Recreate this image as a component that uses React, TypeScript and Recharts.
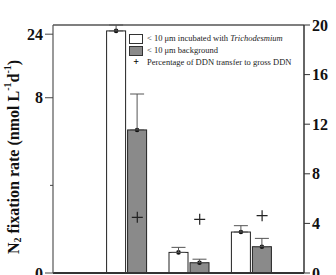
import {
  ComposedChart,
  Bar,
  ErrorBar,
  Scatter,
  XAxis,
  YAxis,
  Legend,
  ReferenceLine,
} from 'recharts'

// values
const sites = ['Group 1', 'Group 2', 'Group 3']
const incubated = [24.5, 0.94, 1.87]
const incubatedErr = [0.9, 0.23, 0.29]
const background = [6.53, 0.47, 1.2]
const backgroundErr = [1.64, 0.16, 0.38]
const transferPct = [4.49, 4.33, 4.62]

const leftTicks = [0, 4, 8, 24]
const rightTicks = [0, 4, 8, 12, 16, 20]

// broken left axis: 0-8 linear, then jumps to 24
const LOWER_MAX = 8
const UPPER_MIN = 24
const UPPER_AT = 10.9
const UPPER_SCALE = 0.3
const BREAK_AT = 10.3
const LEFT_MAX = 11.32

const toAxis = (v: number) =>
  v <= LOWER_MAX ? v : UPPER_AT + (v - UPPER_MIN) * UPPER_SCALE
// error length in axis units, using the scale of the segment the bar ends in
const errToAxis = (v: number, e: number) =>
  e * (v <= LOWER_MAX ? 1 : UPPER_SCALE)

const BAR_SIZE = 19
const BAR_GAP = 2
const FONT = '"Liberation Serif", "Times New Roman", serif'

const data = sites.map((name, i) => ({
  name,
  incubated: toAxis(incubated[i]),
  incubatedErr: [0, errToAxis(incubated[i], incubatedErr[i])],
  background: toAxis(background[i]),
  backgroundErr: [0, errToAxis(background[i], backgroundErr[i])],
  pct: transferPct[i],
}))

const BarWithDot = (props: any) => {
  const { x, y, width, height, fill } = props
  return (
    <g>
      <rect x={x} y={y} width={width} height={height} fill={fill} stroke="#222" strokeWidth={1} />
      <circle cx={x + width / 2} cy={y} r={2.3} fill="#111" />
    </g>
  )
}

const PlusMark = (props: any) => {
  const { cx, cy } = props
  const x = cx + (BAR_SIZE + BAR_GAP) / 2
  const a = 5.5
  return (
    <path
      d={`M${x - a},${cy}H${x + a}M${x},${cy - a}V${cy + a}`}
      stroke="#222"
      strokeWidth={1.2}
      fill="none"
    />
  )
}

const LeftTick = (props: any) => {
  const { x, y, payload } = props
  const v = payload.value
  if (v === BREAK_AT) {
    return (
      <g stroke="#444" strokeWidth={1}>
        <line x1={x - 5} y1={y + 1} x2={x + 2} y2={y - 3} />
        <line x1={x - 5} y1={y + 4} x2={x + 2} y2={y} />
      </g>
    )
  }
  if (v === 4) {
    return <line x1={x - 3} y1={y} x2={x} y2={y} stroke="#444" />
  }
  const label = v === UPPER_AT ? String(UPPER_MIN) : String(v)
  return (
    <g>
      <line x1={x - 8} y1={y} x2={x} y2={y} stroke="#444" />
      <text
        x={x - 10}
        y={y}
        dy="0.35em"
        textAnchor="end"
        fontFamily={FONT}
        fontWeight="bold"
        fontSize={16}
        fill="#111"
      >
        {label}
      </text>
    </g>
  )
}

const YLabel = () => (
  <text
    x={13}
    y={157}
    transform="rotate(-90 13 157)"
    textAnchor="middle"
    dominantBaseline="central"
    fontFamily={FONT}
    fontWeight="bold"
    fontSize={16}
    fill="#111"
  >
    N
    <tspan fontSize={10} dy={4}>2</tspan>
    <tspan dy={-4}> fixation rate (nmol L</tspan>
    <tspan fontSize={10} dy={-6}>-1</tspan>
    <tspan dy={6}>d</tspan>
    <tspan fontSize={10} dy={-6}>-1</tspan>
    <tspan dy={6}>)</tspan>
  </text>
)

const LegendBox = ({ fill }: { fill: string }) => (
  <span
    style={{
      display: 'inline-block',
      width: 12,
      height: 8,
      background: fill,
      border: '1px solid #333',
      marginRight: 4,
      verticalAlign: 'middle',
    }}
  />
)

const rowStyle = { color: '#222', whiteSpace: 'nowrap' as const, height: 12 }

const CustomLegend = () => (
  <div style={{ fontFamily: FONT, fontSize: 8.5, color: '#222', lineHeight: '12px' }}>
    <div style={rowStyle}>
      <LegendBox fill="#fff" />
      &lt; 10 μm incubated with <i>Trichodesmium</i>
    </div>
    <div style={rowStyle}>
      <LegendBox fill="#8a8a8a" />
      &lt; 10 μm background
    </div>
    <div style={rowStyle}>
      <span style={{ display: 'inline-block', width: 14, textAlign: 'center', marginRight: 4, fontWeight: 'bold', fontSize: 10, color: '#000' }}>+</span>
      Percentage of DDN transfer to gross DDN
    </div>
  </div>
)

export default function App() {
  const leftTickValues = leftTicks.map(toAxis)
  leftTickValues.splice(3, 0, BREAK_AT)
  return (
    <div style={{ position: 'absolute', left: 0, top: 0, width: 336, height: 275, overflow: 'hidden', background: '#fff' }}>
      <ComposedChart
        width={336}
        height={292}
        data={data}
        margin={{ top: 25, right: 0, bottom: 0, left: 0 }}
        barSize={BAR_SIZE}
        barGap={BAR_GAP}
      >
        <XAxis
          dataKey="name"
          height={19}
          tick={false}
          tickLine={false}
          axisLine={{ stroke: '#333', strokeWidth: 2 }}
          padding={{ left: 42.6, right: 21.2 }}
        />
        <YAxis
          yAxisId="left"
          width={53}
          domain={[0, LEFT_MAX]}
          ticks={leftTickValues}
          allowDataOverflow
          tickLine={false}
          tickSize={0}
          tickMargin={0}
          axisLine={{ stroke: '#555', strokeWidth: 1.2 }}
          tick={<LeftTick />}
          label={<YLabel />}
        />
        <YAxis
          yAxisId="right"
          orientation="right"
          width={32}
          domain={[0, 20]}
          ticks={rightTicks}
          tickSize={6}
          tickMargin={2}
          tickLine={{ stroke: '#333' }}
          axisLine={{ stroke: '#333', strokeWidth: 1.5 }}
          tick={{ fontFamily: FONT, fontWeight: 'bold', fontSize: 16, fill: '#111' }}
        />
        <ReferenceLine yAxisId="right" y={20} stroke="#555" strokeWidth={1.5} />
        <Legend
          verticalAlign="middle"
          layout="horizontal"
          wrapperStyle={{ left: 129, top: 32, width: 190 }}
          content={<CustomLegend />}
        />
        <Bar
          yAxisId="left"
          dataKey="incubated"
          fill="#ffffff"
          shape={<BarWithDot />}
          isAnimationActive={false}
        >
          <ErrorBar dataKey="incubatedErr" direction="y" width={7} stroke="#555" strokeWidth={1} />
        </Bar>
        <Bar
          yAxisId="left"
          dataKey="background"
          fill="#8a8a8a"
          shape={<BarWithDot />}
          isAnimationActive={false}
        >
          <ErrorBar dataKey="backgroundErr" direction="y" width={7} stroke="#555" strokeWidth={1} />
        </Bar>
        <Scatter
          yAxisId="right"
          dataKey="pct"
          shape={<PlusMark />}
          isAnimationActive={false}
        />
      </ComposedChart>
    </div>
  )
}
